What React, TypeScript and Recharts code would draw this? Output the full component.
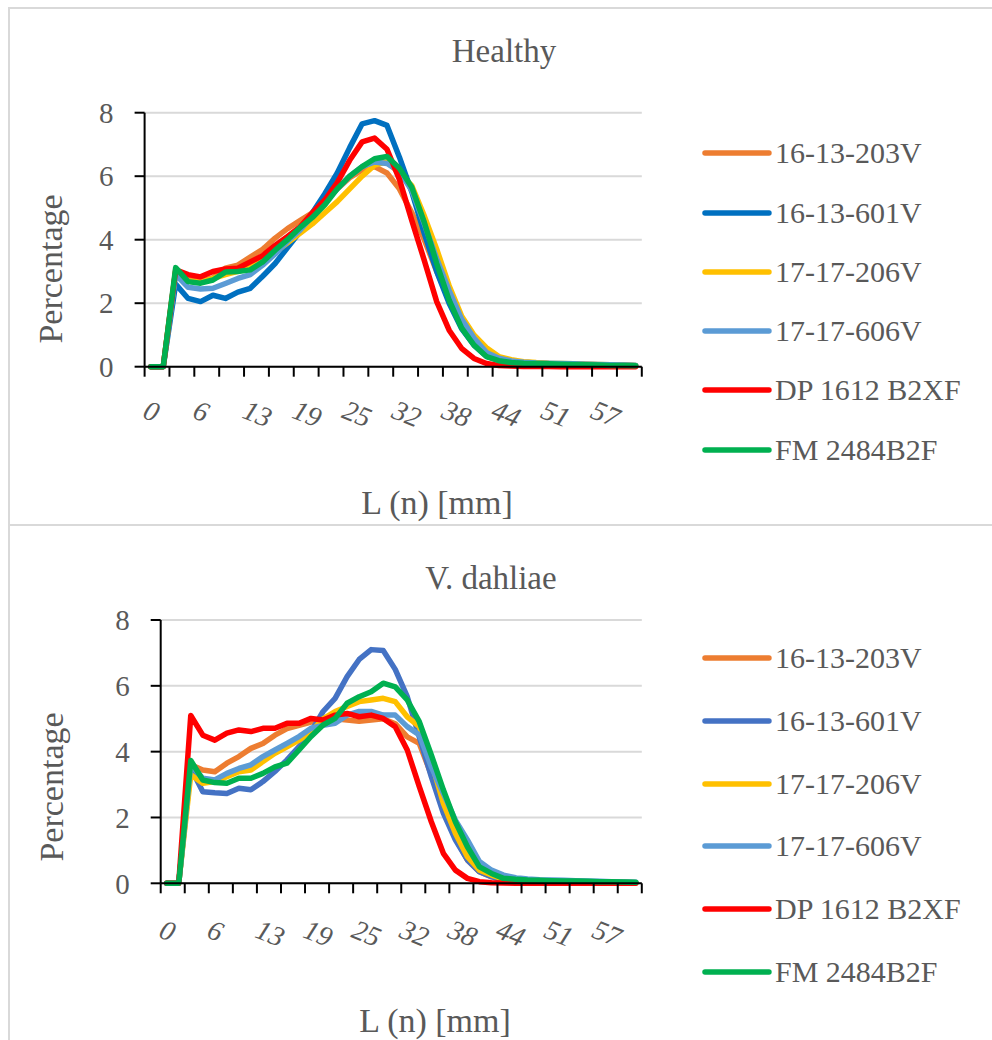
import React from 'react';
import { LineChart, Line, XAxis, YAxis, CartesianGrid, Legend } from 'recharts';

const FONT = '"Liberation Serif", "Times New Roman", serif';
const TEXT_COLOR = '#595959';

// Length classes L (n) [mm] (category values, 40 classes)
const lengthClasses = [
  0, 2, 3, 5, 6, 8, 10, 11, 13, 14, 16, 17, 19, 21, 22, 24, 25, 27, 29, 30,
  32, 33, 35, 36, 38, 40, 41, 43, 44, 46, 48, 49, 51, 52, 54, 55, 57, 59, 60, 62,
];

const seriesNames = ['16-13-203V', '16-13-601V', '17-17-206V', '17-17-606V', 'DP 1612 B2XF', 'FM 2484B2F'];

// Healthy
const healthy203V = [0, 0, 3.0, 2.75, 2.7, 2.8, 3.1, 3.2, 3.45, 3.7, 4.05, 4.35, 4.6, 4.85, 5.2, 5.6, 5.95, 6.2, 6.3, 6.1, 5.6, 4.85, 4.0, 3.0, 2.1, 1.35, 0.8, 0.45, 0.27, 0.18, 0.14, 0.12, 0.1, 0.09, 0.08, 0.07, 0.06, 0.05, 0.04, 0.03];
const healthy601V = [0, 0, 2.6, 2.15, 2.05, 2.25, 2.15, 2.35, 2.47, 2.85, 3.25, 3.75, 4.25, 4.85, 5.45, 6.1, 6.9, 7.65, 7.75, 7.6, 6.6, 5.5, 4.2, 3.0, 2.0, 1.2, 0.68, 0.33, 0.2, 0.14, 0.11, 0.1, 0.09, 0.08, 0.08, 0.07, 0.06, 0.05, 0.05, 0.04];
const healthy206V = [0, 0, 3.0, 2.7, 2.65, 2.78, 2.9, 3.0, 3.15, 3.4, 3.6, 3.9, 4.2, 4.5, 4.85, 5.2, 5.6, 6.0, 6.35, 6.45, 6.1, 5.7, 4.75, 3.7, 2.55, 1.6, 1.0, 0.6, 0.32, 0.22, 0.16, 0.13, 0.11, 0.1, 0.09, 0.08, 0.07, 0.06, 0.05, 0.04];
const healthy606V = [0, 0, 2.9, 2.5, 2.45, 2.47, 2.62, 2.78, 2.9, 3.2, 3.55, 3.95, 4.3, 4.75, 5.2, 5.6, 6.0, 6.3, 6.45, 6.4, 6.15, 5.55, 4.5, 3.4, 2.4, 1.5, 0.9, 0.45, 0.27, 0.18, 0.14, 0.12, 0.11, 0.1, 0.09, 0.08, 0.07, 0.06, 0.05, 0.04];
const healthyDP = [0, 0, 3.05, 2.9, 2.83, 3.0, 3.08, 3.1, 3.3, 3.5, 3.82, 4.1, 4.4, 4.85, 5.25, 5.8, 6.5, 7.08, 7.2, 6.85, 5.9, 4.6, 3.35, 2.05, 1.15, 0.58, 0.26, 0.1, 0.04, 0.02, 0.01, 0.01, 0.01, 0, 0, 0, 0, 0, 0, 0];
const healthyFM = [0, 0, 3.12, 2.68, 2.63, 2.73, 2.98, 3.0, 3.05, 3.3, 3.67, 4.0, 4.38, 4.7, 5.1, 5.6, 6.0, 6.3, 6.55, 6.62, 6.25, 5.65, 4.55, 3.25, 2.1, 1.22, 0.68, 0.32, 0.19, 0.13, 0.11, 0.1, 0.09, 0.08, 0.07, 0.06, 0.05, 0.04, 0.04, 0.03];

// V. dahliae
const dahliae203V = [0, 0, 3.6, 3.44, 3.39, 3.65, 3.85, 4.1, 4.25, 4.5, 4.7, 4.8, 4.9, 4.92, 5.0, 4.96, 4.92, 4.96, 5.0, 4.85, 4.45, 4.25, 3.3, 2.33, 1.37, 0.71, 0.35, 0.2, 0.1, 0.07, 0.05, 0.04, 0.03, 0.03, 0.02, 0.02, 0.02, 0.01, 0.01, 0.01];
const dahliae601V = [0, 0, 3.5, 2.78, 2.75, 2.73, 2.89, 2.84, 3.09, 3.4, 3.75, 4.15, 4.6, 5.22, 5.62, 6.28, 6.8, 7.1, 7.07, 6.5, 5.67, 4.45, 3.24, 2.13, 1.32, 0.71, 0.35, 0.2, 0.1, 0.07, 0.06, 0.05, 0.05, 0.04, 0.04, 0.04, 0.03, 0.03, 0.03, 0.02];
const dahliae206V = [0, 0, 3.3, 3.04, 3.09, 3.24, 3.39, 3.44, 3.7, 3.95, 4.15, 4.35, 4.6, 5.0, 5.22, 5.37, 5.52, 5.57, 5.62, 5.52, 5.06, 4.76, 3.7, 2.43, 1.52, 0.81, 0.4, 0.25, 0.13, 0.1, 0.08, 0.07, 0.06, 0.05, 0.05, 0.04, 0.04, 0.03, 0.03, 0.02];
const dahliae606V = [0, 0, 3.6, 3.19, 3.14, 3.34, 3.49, 3.6, 3.85, 4.05, 4.25, 4.46, 4.71, 4.8, 4.86, 5.11, 5.22, 5.22, 5.11, 5.11, 4.76, 4.51, 3.54, 2.73, 1.92, 1.32, 0.66, 0.4, 0.25, 0.17, 0.13, 0.11, 0.1, 0.09, 0.08, 0.07, 0.06, 0.05, 0.04, 0.03];
const dahliaeDP = [0, 0, 5.1, 4.5, 4.35, 4.56, 4.66, 4.61, 4.71, 4.71, 4.86, 4.86, 5.01, 4.96, 5.11, 5.16, 5.06, 5.11, 5.01, 4.76, 4.05, 2.94, 1.87, 0.91, 0.4, 0.15, 0.05, 0.02, 0.01, 0, 0, 0, 0, 0, 0, 0, 0, 0, 0, 0];
const dahliaeFM = [0, 0, 3.73, 3.14, 3.06, 3.04, 3.19, 3.19, 3.34, 3.54, 3.65, 4.05, 4.46, 4.81, 5.01, 5.47, 5.67, 5.82, 6.08, 5.97, 5.57, 4.91, 3.9, 2.84, 1.87, 1.11, 0.5, 0.3, 0.15, 0.12, 0.1, 0.09, 0.08, 0.07, 0.07, 0.06, 0.05, 0.05, 0.04, 0.03];

const healthyColors = ['#ED7D31', '#0070C0', '#FFC000', '#5B9BD5', '#FF0000', '#00B050'];
const dahliaeColors = ['#ED7D31', '#4472C4', '#FFC000', '#5B9BD5', '#FF0000', '#00B050'];

const yTicks = [0, 2, 4, 6, 8];

function buildRows(series: number[][]) {
  return lengthClasses.map((L, i) => {
    const row: Record<string, number> = { pos: i + 0.5, L };
    series.forEach((s, k) => {
      row['s' + k] = s[i];
    });
    return row;
  });
}

const nCat = lengthClasses.length;
const boundaryTicks = Array.from({ length: nCat / 2 + 1 }, (_, k) => k * 2);
const labelTicks = lengthClasses.map((_, i) => i).filter((i) => i % 4 === 0).map((i) => i + 0.5);

const CatTick = (props: any) => {
  const { x, y, payload } = props;
  const idx = Math.floor(payload.value);
  return (
    <g transform={`translate(${x},${y})`}>
      <text
        x={-2}
        y={0}
        dy="0.7em"
        transform="rotate(22)"
        textAnchor="start"
        fontStyle="italic"
        fontFamily={FONT}
        fontSize={28}
        fill={TEXT_COLOR}
      >
        {lengthClasses[idx]}
      </text>
    </g>
  );
};

const makeLegend = (spacing: number) => (props: any) => {
  const payload = (props.payload || []).slice().sort(
    (a: any, b: any) => seriesNames.indexOf(a.value) - seriesNames.indexOf(b.value)
  );
  return (
    <div style={{ fontFamily: FONT }}>
      {payload.map((p: any) => (
        <div key={p.value} style={{ height: spacing, display: 'flex', alignItems: 'center' }}>
          <svg width={70} height={10} style={{ display: 'block' }}>
            <line x1={3} y1={5} x2={67} y2={5} stroke={p.color} strokeWidth={5.5} strokeLinecap="round" />
          </svg>
          <span style={{ fontSize: 30, color: TEXT_COLOR, marginLeft: 3, whiteSpace: 'nowrap', lineHeight: 1 }}>
            {p.value}
          </span>
        </div>
      ))}
    </div>
  );
};

type PanelProps = {
  title: string;
  series: number[][];
  colors: string[];
  margin: { top: number; right: number; bottom: number; left: number };
  titlePos: [number, number];
  yTitlePos: [number, number];
  xTitlePos: [number, number];
  labelMargin: number;
  legendTop: number;
  legendSpacing: number;
};

function Panel(p: PanelProps) {
  const rows = buildRows(p.series);
  return (
    <LineChart width={982} height={514} data={rows} margin={p.margin}>
      <CartesianGrid vertical={false} stroke="#d9d9d9" strokeWidth={2} />
      <XAxis
        type="number"
        dataKey="pos"
        domain={[0, nCat]}
        ticks={boundaryTicks}
        interval={0}
        allowDataOverflow
        height={10}
        tickSize={10}
        tickFormatter={() => ''}
        axisLine={{ stroke: '#000', strokeWidth: 2 }}
        tickLine={{ stroke: '#000', strokeWidth: 2 }}
      />
      <XAxis
        xAxisId="lab"
        type="number"
        dataKey="pos"
        domain={[0, nCat]}
        ticks={labelTicks}
        interval={0}
        allowDataOverflow
        height={40}
        tickSize={0}
        tickMargin={p.labelMargin}
        axisLine={false}
        tickLine={false}
        tick={<CatTick />}
      />
      <YAxis
        domain={[0, 8]}
        ticks={yTicks}
        interval={0}
        width={60}
        tickSize={10}
        tickMargin={21}
        axisLine={{ stroke: '#000', strokeWidth: 2 }}
        tickLine={{ stroke: '#000', strokeWidth: 2 }}
        tick={{ fill: TEXT_COLOR, fontSize: 29, fontFamily: FONT }}
      />
      <Legend
        layout="vertical"
        align="center"
        verticalAlign="middle"
        wrapperStyle={{ left: 692, top: p.legendTop, width: 290 }}
        content={makeLegend(p.legendSpacing)}
      />
      {p.series.map((_, k) => (
        <Line
          key={k}
          type="linear"
          dataKey={'s' + k}
          name={seriesNames[k]}
          stroke={p.colors[k]}
          strokeWidth={5.5}
          strokeLinejoin="round"
          strokeLinecap="round"
          dot={false}
          activeDot={false}
          isAnimationActive={false}
        />
      ))}
      <text
        x={p.titlePos[0]}
        y={p.titlePos[1]}
        textAnchor="middle"
        fontFamily={FONT}
        fontSize={33}
        fill={TEXT_COLOR}
      >
        {p.title}
      </text>
      <text
        x={p.yTitlePos[0]}
        y={p.yTitlePos[1]}
        textAnchor="middle"
        dominantBaseline="central"
        transform={`rotate(-90, ${p.yTitlePos[0]}, ${p.yTitlePos[1]})`}
        fontFamily={FONT}
        fontSize={34}
        fill={TEXT_COLOR}
      >
        Percentage
      </text>
      <text
        x={p.xTitlePos[0]}
        y={p.xTitlePos[1]}
        textAnchor="middle"
        fontFamily={FONT}
        fontSize={34}
        fill={TEXT_COLOR}
      >
        L (n) [mm]
      </text>
    </LineChart>
  );
}

export default function App() {
  const border = '2px solid #d9d9d9';
  return (
    <div
      style={{
        position: 'fixed',
        left: 8,
        top: 7,
        width: 984,
        height: 1033,
        overflow: 'hidden',
        background: '#fff',
      }}
    >
      <div style={{ borderLeft: border, borderTop: border, height: 515, overflow: 'hidden' }}>
        <Panel
          title="Healthy"
          series={[healthy203V, healthy601V, healthy206V, healthy606V, healthyDP, healthyFM]}
          colors={healthyColors}
          margin={{ top: 103.7, right: 350.2, left: 74.6, bottom: 106.3 }}
          titlePos={[494, 53]}
          yTitlePos={[40, 260]}
          xTitlePos={[427, 505]}
          labelMargin={23}
          legendTop={114.6}
          legendSpacing={59.3}
        />
      </div>
      <div style={{ borderLeft: border, borderTop: border, height: 514, overflow: 'hidden' }}>
        <Panel
          title="V. dahliae"
          series={[dahliae203V, dahliae601V, dahliae206V, dahliae606V, dahliaeDP, dahliaeFM]}
          colors={dahliaeColors}
          margin={{ top: 94, right: 350.2, left: 90.7, bottom: 106.7 }}
          titlePos={[481, 63]}
          yTitlePos={[41, 261]}
          xTitlePos={[425, 506]}
          labelMargin={26}
          legendTop={100.6}
          legendSpacing={62.8}
        />
      </div>
    </div>
  );
}
